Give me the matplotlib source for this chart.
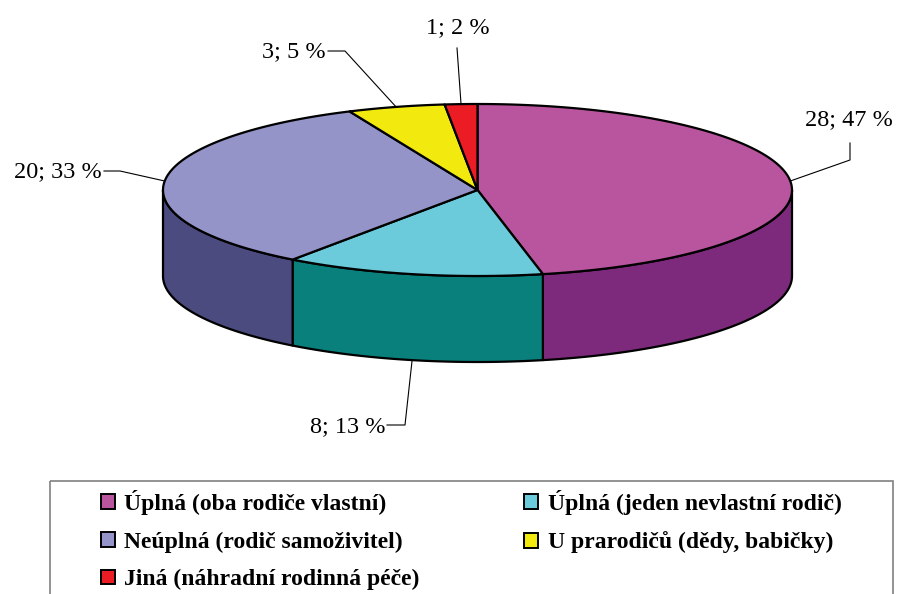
import numpy as np
import matplotlib
matplotlib.use("Agg")
import matplotlib.pyplot as plt
from matplotlib.patches import Polygon, Patch, Rectangle

# data
labels = ["Úplná (oba rodiče vlastní)", "Úplná (jeden nevlastní rodič)",
          "Neúplná (rodič samoživitel)", "U prarodičů (dědy, babičky)",
          "Jiná (náhradní rodinná péče)"]
counts = [28, 8, 20, 3, 1]
top_colors = ["#B8559E", "#6CCBDB", "#9494C8", "#F2EA0F", "#EC1C24"]
side_colors = ["#7D2A7C", "#0A807D", "#4B4B80", "#9C9600", "#8C1014"]

# pie geometry in pixel coordinates
cx, cy, rx, ry, depth = 477.5, 190, 314.5, 86, 86

fig = plt.figure(figsize=(8.98, 5.94), dpi=100)
ax = fig.add_axes([0, 0, 1, 1])
ax.set_xlim(0, 898)
ax.set_ylim(594, 0)
ax.axis("off")


def pt(deg, dy=0):
    t = np.radians(deg)
    return cx + rx * np.cos(t), cy - ry * np.sin(t) + dy


def arc(a, b, dy=0, n=120):
    t = np.radians(np.linspace(a, b, n))
    return np.column_stack([cx + rx * np.cos(t), cy - ry * np.sin(t) + dy])


total = float(sum(counts))
starts, ends = [], []
ang = 90.0
for v in counts:
    starts.append(ang)
    ang -= v / total * 360
    ends.append(ang)

# side walls (front half only)
for i in range(len(counts)):
    a = max(ends[i], -180)
    b = min(starts[i], 0)
    if a < b:
        top = arc(a, b)
        bot = arc(b, a, depth)
        ax.add_patch(Polygon(np.vstack([top, bot]), closed=True,
                             facecolor=side_colors[i], edgecolor="black",
                             lw=1.6, joinstyle="round", zorder=1))

# top faces
for i in range(len(counts)):
    poly = np.vstack([[cx, cy], arc(starts[i], ends[i])])
    ax.add_patch(Polygon(poly, closed=True, facecolor=top_colors[i],
                         edgecolor="black", lw=1.6, joinstyle="round", zorder=2))

# data labels with leader lines
lab_pos = [(849, 120, "center"), (385, 427, "right"), (102, 172, "right"),
           (326, 52, "right"), (458, 28, "center")]
elbows = [[(850, 160), (850, 143)], [(405, 425), (387, 425)],
          [(120, 171), (104, 171)], [(345, 51), (328, 51)], [(457, 48)]]
for i, v in enumerate(counts):
    mid = (starts[i] + ends[i]) / 2
    dy = depth if np.sin(np.radians(mid)) < -0.9 else 0
    x0, y0 = pt(mid, dy)
    xs = [x0] + [p[0] for p in elbows[i]]
    ys = [y0] + [p[1] for p in elbows[i]]
    ax.plot(xs, ys, color="black", lw=0.8, zorder=3)
    tx, ty, ha = lab_pos[i]
    ax.text(tx, ty, f"{v}; {round(v / total * 100)} %", ha=ha, va="center",
            fontsize=17.5, family="Liberation Serif", zorder=4)

# legend frame (cut off at the bottom like the original)
ax.add_patch(Rectangle((50, 481), 843, 140, facecolor="none",
                       edgecolor="#808080", lw=1.2, zorder=1, clip_on=True))
handles = [Patch(facecolor=c, edgecolor="black", lw=1.4) for c in top_colors]
order = [0, 2, 4, 1, 3]
leg = ax.legend([handles[k] for k in order], [labels[k] for k in order],
                ncol=2, loc="upper left", bbox_to_anchor=(82, 471),
                bbox_transform=ax.transData, frameon=False,
                prop={"family": "Liberation Serif", "weight": "bold", "size": 17},
                handlelength=0.6, handleheight=0.6, handletextpad=0.4,
                labelspacing=0.7, columnspacing=4.42, borderpad=0.3)

fig.savefig("out.png", dpi=100)
